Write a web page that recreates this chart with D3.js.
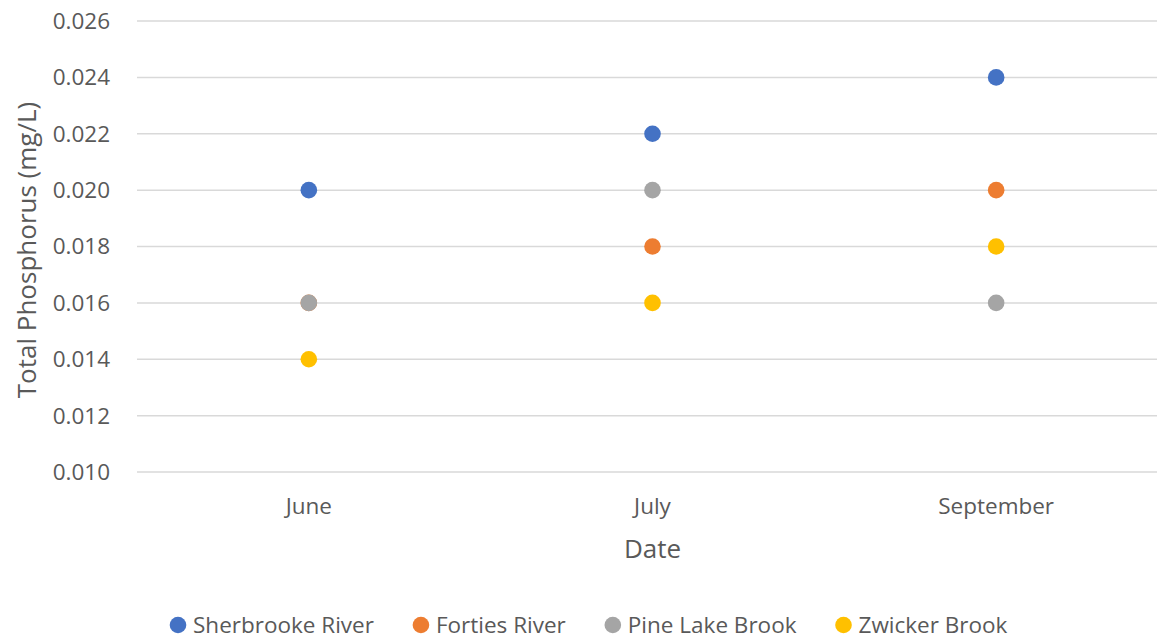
<!DOCTYPE html>
<html>
<head>
<meta charset="utf-8">
<script src="https://cdn.jsdelivr.net/npm/d3@7"></script>
<style>
  body { margin: 0; background: #fff; }
  svg text { font-family: "Open Sans", "Noto Sans", sans-serif; fill: #595959; }
</style>
</head>
<body>
<svg id="chart" width="1157" height="639"></svg>
<script>
const months = ['June', 'July', 'September'];
const seriesNames = ['Sherbrooke River', 'Forties River', 'Pine Lake Brook', 'Zwicker Brook'];
const seriesColors = ['#4472c4', '#ed7d31', '#a5a5a5', '#ffc000'];
const sherbrooke = [0.020, 0.022, 0.024];
const forties = [0.016, 0.018, 0.020];
const pineLake = [0.016, 0.020, 0.016];
const zwicker = [0.014, 0.016, 0.018];
const yTicks = [0.010, 0.012, 0.014, 0.016, 0.018, 0.020, 0.022, 0.024, 0.026];

const seriesValues = [sherbrooke, forties, pineLake, zwicker];

const svg = d3.select('#chart');
const plotLeft = 137, plotRight = 1168, plotTop = 21, plotBottom = 472;

const x = d3.scalePoint().domain(months).range([plotLeft, plotRight]).padding(0.5);
const y = d3.scaleLinear().domain([0.010, 0.026]).range([plotBottom, plotTop]);

// gridlines
svg.append('g')
  .selectAll('line')
  .data(yTicks)
  .enter()
  .append('line')
  .attr('x1', plotLeft)
  .attr('x2', plotRight)
  .attr('y1', (d) => y(d))
  .attr('y2', (d) => y(d))
  .attr('stroke', '#d9d9d9')
  .attr('stroke-width', 1.5);

// y tick labels
svg.append('g')
  .selectAll('text')
  .data(yTicks)
  .enter()
  .append('text')
  .attr('x', 110)
  .attr('y', (d) => y(d))
  .attr('dy', '0.35em')
  .attr('text-anchor', 'end')
  .attr('font-size', 22.5)
  .text((d) => d3.format('.3f')(d));

// x labels
svg.append('g')
  .selectAll('text')
  .data(months)
  .enter()
  .append('text')
  .attr('x', (d) => x(d))
  .attr('y', 506)
  .attr('dy', '0.35em')
  .attr('text-anchor', 'middle')
  .attr('font-size', 22.5)
  .text((d) => d);

// axis titles
svg.append('text')
  .attr('x', x('July'))
  .attr('y', 549)
  .attr('dy', '0.35em')
  .attr('text-anchor', 'middle')
  .attr('font-size', 26)
  .text('Date');

svg.append('text')
  .attr('transform', `translate(27, 250) rotate(-90)`)
  .attr('dy', '0.35em')
  .attr('text-anchor', 'middle')
  .attr('font-size', 26)
  .text('Total Phosphorus (mg/L)');

// points
seriesValues.forEach((vals, i) => {
  svg.append('g')
    .selectAll('circle')
    .data(vals.map((v, j) => ({ month: months[j], value: v })))
    .enter()
    .append('circle')
    .attr('cx', (d) => x(d.month))
    .attr('cy', (d) => y(d.value))
    .attr('r', 8.3)
    .attr('fill', seriesColors[i]);
});

// legend
const legend = svg.append('g').attr('transform', 'translate(0, 625)');
let lx = 178;
seriesNames.forEach((name, i) => {
  const item = legend.append('g').attr('transform', `translate(${lx}, 0)`);
  item.append('circle').attr('r', 8.3).attr('fill', seriesColors[i]);
  const t = item.append('text')
    .attr('x', 15)
    .attr('dy', '0.35em')
    .attr('font-size', 22.5)
    .text(name);
  const w = t.node().getComputedTextLength();
  lx += 15 + w + 47;
});
</script>
</body>
</html>
